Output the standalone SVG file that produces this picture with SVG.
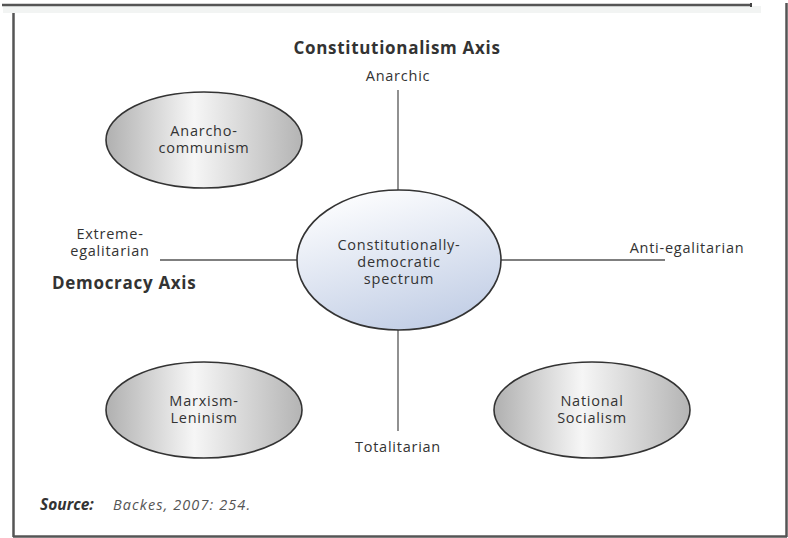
<svg xmlns="http://www.w3.org/2000/svg" width="788" height="538" viewBox="0 0 788 538">
<defs>
<linearGradient id="gray" x1="0" y1="0" x2="1" y2="0">
<stop offset="0" stop-color="#b0b0b0"/>
<stop offset="0.45" stop-color="#f6f6f6"/>
<stop offset="1" stop-color="#b4b4b4"/>
</linearGradient>
<linearGradient id="blue" x1="0.2" y1="0" x2="0.6" y2="1">
<stop offset="0" stop-color="#ffffff"/>
<stop offset="1" stop-color="#c3cfe6"/>
</linearGradient>
<style>
.t{font-family:"Open Sans","Liberation Sans",sans-serif;font-size:14.5px;letter-spacing:0.75px;fill:#333;text-anchor:middle}
.b{font-family:"Open Sans","Liberation Sans",sans-serif;font-size:17px;letter-spacing:0.7px;font-weight:bold;fill:#333}
.ax{stroke:#555;stroke-width:1.3;fill:none}
.node{stroke:#333;stroke-width:1.6}
.frame{stroke:#555;stroke-width:2.5;fill:none}
</style>
</defs>
<rect x="0" y="0" width="788" height="538" fill="#fff"/>
<g id="frame">
<rect x="3" y="6" width="758" height="7" fill="#f2f4f3"/>
<line class="frame" x1="2" y1="5" x2="752" y2="5"/>
<line x1="751" y1="3" x2="751" y2="7" stroke="#444" stroke-width="2"/>
<line class="frame" x1="13.5" y1="13" x2="13.5" y2="537"/>
<line class="frame" x1="786.5" y1="3" x2="786.5" y2="537"/>
<line class="frame" x1="13" y1="536.5" x2="787" y2="536.5"/>
</g>
<g id="connectors">
<line class="ax" x1="398" y1="90" x2="398" y2="190"/>
<line class="ax" x1="398" y1="330" x2="398" y2="431"/>
<line class="ax" x1="160" y1="260" x2="298" y2="260"/>
<line class="ax" x1="500" y1="260" x2="665" y2="260"/>
</g>
<g id="labels">
<text class="b" x="397" y="54" text-anchor="middle">Constitutionalism Axis</text>
<text class="t" x="398" y="81">Anarchic</text>
<text class="t" x="398" y="452">Totalitarian</text>
<text class="t" x="110" y="239">Extreme-</text>
<text class="t" x="110" y="256">egalitarian</text>
<text class="t" x="687" y="253">Anti-egalitarian</text>
<text class="b" x="52" y="289">Democracy Axis</text>
</g>
<g id="center">
<ellipse class="node" cx="399" cy="260" rx="102" ry="70" fill="url(#blue)"/>
<text class="t" x="399" y="250">Constitutionally-</text>
<text class="t" x="399" y="267">democratic</text>
<text class="t" x="399" y="284">spectrum</text>
</g>
<g id="anarcho">
<ellipse class="node" cx="204" cy="140" rx="98" ry="48" fill="url(#gray)"/>
<text class="t" x="204" y="136">Anarcho-</text>
<text class="t" x="204" y="153">communism</text>
</g>
<g id="marxism">
<ellipse class="node" cx="204" cy="410" rx="98" ry="48" fill="url(#gray)"/>
<text class="t" x="204" y="406">Marxism-</text>
<text class="t" x="204" y="423">Leninism</text>
</g>
<g id="national">
<ellipse class="node" cx="592" cy="410" rx="98" ry="48" fill="url(#gray)"/>
<text class="t" x="592" y="406">National</text>
<text class="t" x="592" y="423">Socialism</text>
</g>
<g id="source">
<text x="40" y="510" style="font-family:'Open Sans','Liberation Sans',sans-serif;font-size:15.5px;font-weight:bold;font-style:italic;fill:#333">Source:</text>
<text x="113" y="510" style="font-family:'Open Sans','Liberation Sans',sans-serif;font-size:14.5px;letter-spacing:1.1px;font-style:italic;fill:#555">Backes, 2007: 254.</text>
</g>
</svg>
